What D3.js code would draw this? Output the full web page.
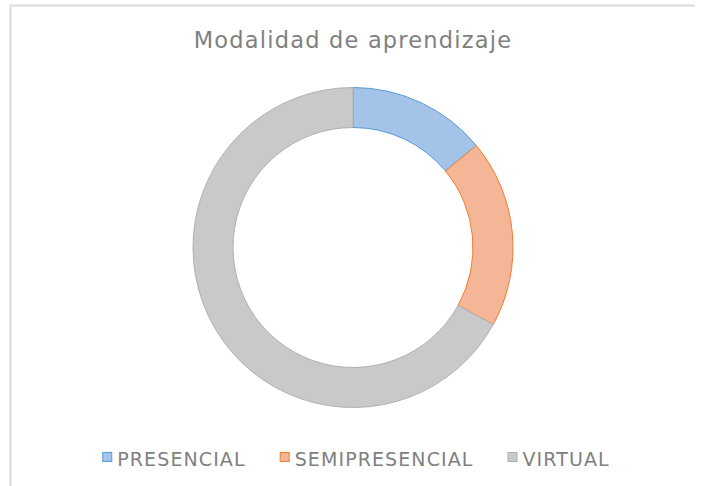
<!DOCTYPE html>
<html>
<head>
<meta charset="utf-8">
<script src="https://cdn.jsdelivr.net/npm/d3@7"></script>
<style>
  body { margin: 0; background: #fff; }
  svg { display: block; }
</style>
</head>
<body>
<div id="chart"></div>
<script>
var categories = ["PRESENCIAL", "SEMIPRESENCIAL", "VIRTUAL"];
var values = [14, 19, 67];
var fills = ["#a4c3e9", "#f5b597", "#c9c9c9"];
var strokes = ["#5b9bd5", "#ed7d31", "#b0b0b0"];
var title = "Modalidad de aprendizaje";

var width = 705,
  height = 486;

var cx = 353,
  cy = 247.5,
  outerRadius = 160,
  innerRadius = 120;

var svg = d3.select("#chart").append("svg")
  .attr("width", width)
  .attr("height", height);

// chart area border (only top and left edges are visible)
svg.append("path")
  .attr("d", "M10.5," + height + "V5.5H695")
  .attr("fill", "none")
  .attr("stroke", "#d9d9d9")
  .attr("stroke-width", 2);

svg.append("text")
  .attr("x", cx)
  .attr("y", 48)
  .attr("text-anchor", "middle")
  .attr("font-family", "DejaVu Sans, Verdana, sans-serif")
  .attr("font-size", 22.5)
  .attr("letter-spacing", 1.2)
  .attr("fill", "#808080")
  .text(title);

var pie = d3.pie()
  .sort(null)
  .value(d => d);

var arc = d3.arc()
  .innerRadius(innerRadius)
  .outerRadius(outerRadius);

var g = svg.append("g")
  .attr("transform", "translate(" + cx + "," + cy + ")");

g.selectAll(".slice")
  .data(pie(values))
  .enter().append("path")
  .attr("class", "slice")
  .attr("d", arc)
  .attr("fill", (d, i) => fills[i])
  .attr("stroke", (d, i) => strokes[i])
  .attr("stroke-width", 1);

// legend
var legend = svg.append("g")
  .attr("font-family", "DejaVu Sans, Verdana, sans-serif")
  .attr("font-size", 19)
  .attr("letter-spacing", 1.1)
  .attr("fill", "#808080");

var items = legend.selectAll(".item")
  .data(categories)
  .enter().append("g")
  .attr("class", "item");

items.append("rect")
  .attr("x", 0.5)
  .attr("y", -13.5)
  .attr("width", 9)
  .attr("height", 9)
  .attr("fill", (d, i) => fills[i])
  .attr("stroke", (d, i) => strokes[i])
  .attr("stroke-width", 1);

items.append("text")
  .attr("x", 15)
  .attr("y", 0)
  .text(d => d);

var gap = 34;
var widths = [];
items.each(function () {
  widths.push(this.querySelector("text").getComputedTextLength() + 15);
});
var total = d3.sum(widths) + gap * (widths.length - 1);
var x0 = cx + 3 - total / 2;
items.attr("transform", function (d, i) {
  var x = x0 + d3.sum(widths.slice(0, i)) + gap * i;
  return "translate(" + x + ",466)";
});
</script>
</body>
</html>
